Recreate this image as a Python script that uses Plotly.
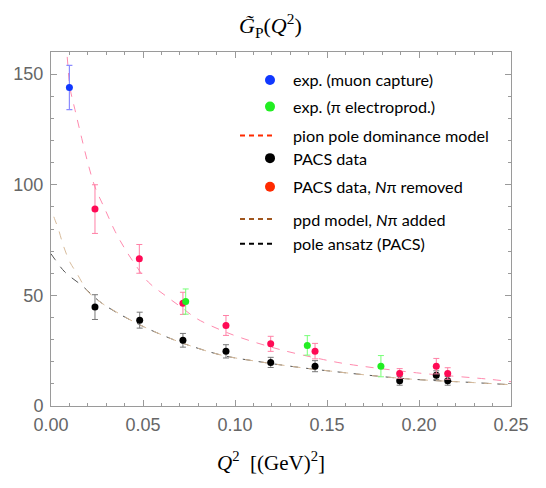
import plotly.graph_objects as go

# ---------------- data ----------------
# experimental: muon capture
mu_x = [0.0100]
mu_y = [144.0]
mu_e = [10.0]

# experimental: pi electroproduction
el_x = [0.0732, 0.1393, 0.1793]
el_y = [47.2, 27.4, 18.0]
el_e = [5.7, 4.4, 4.8]

# PACS data
pacs_x = [0.0239, 0.0482, 0.0717, 0.0951, 0.1194, 0.1435, 0.1895, 0.2094, 0.2156]
pacs_y = [44.7, 38.8, 29.7, 24.7, 19.7, 18.0, 11.4, 13.9, 11.4]
pacs_e = [5.6, 3.6, 3.1, 3.0, 2.3, 2.5, 2.0, 2.0, 2.0]

# PACS data, N-pi removed
rem_x = [0.0239, 0.0480, 0.0717, 0.0951, 0.1194, 0.1435, 0.1895, 0.2094, 0.2156]
rem_y = [89.0, 66.5, 46.4, 36.4, 28.1, 24.8, 14.7, 18.0, 14.7]
rem_e = [11.0, 6.5, 5.0, 4.5, 3.4, 3.5, 2.2, 3.5, 2.6]

# pion pole dominance model
ppd_x = [0.0060, 0.0085, 0.0103, 0.0130, 0.0167, 0.0203, 0.0239, 0.0293, 0.0348,
         0.0402, 0.0457, 0.0529, 0.0620, 0.0710, 0.0792, 0.0918, 0.1027, 0.1245,
         0.1480, 0.1607, 0.1987, 0.2368, 0.2500]
ppd_y = [172, 160, 144, 134, 121, 109, 99, 89, 79,
         71, 64, 56, 50, 44.5, 39.5, 34.5, 31, 25.5,
         21, 19, 15, 12.2, 11]

# ppd model, N-pi added
add_x = [0.0, 0.0022, 0.0040, 0.0067, 0.0103, 0.0140, 0.0203, 0.0276, 0.0330,
         0.0475, 0.0656, 0.0765, 0.0936, 0.1118, 0.1299, 0.1516, 0.1933, 0.2295, 0.2500]
add_y = [89, 84, 80, 72.5, 65, 60, 51.5, 46.5, 43.7,
         37, 30.3, 27, 22.8, 20.2, 18, 15.8, 12.3, 10.6, 9.6]

# pole ansatz (PACS)
pole_x = [0.0, 0.0022, 0.0076, 0.0167, 0.0276, 0.0475, 0.0656, 0.0765, 0.0936,
          0.1118, 0.1299, 0.1516, 0.1933, 0.2295, 0.2500]
pole_y = [68.8, 66.2, 60.5, 54.5, 46.5, 37, 30.3, 27, 22.8,
          20.2, 18, 15.8, 12.3, 10.6, 9.6]

legend_labels = ["exp. (muon capture)", "exp. (π electroprod.)", "pion pole dominance model",
                 "PACS data", "PACS data, <i>N</i>π removed", "ppd model, <i>N</i>π added",
                 "pole ansatz (PACS)"]

# ---------------- figure ----------------
fig = go.Figure()

fig.add_trace(go.Scatter(x=pole_x, y=pole_y, mode="lines", line_shape="spline",
                         line=dict(color="#555555", width=1, dash="8px,8px"), showlegend=False))
fig.add_trace(go.Scatter(x=add_x, y=add_y, mode="lines", line_shape="spline",
                         line=dict(color="#d8bc9c", width=1, dash="0px,8px,8px,0px"), showlegend=False))
fig.add_trace(go.Scatter(x=ppd_x, y=ppd_y, mode="lines", line_shape="spline",
                         line=dict(color="#ff8aae", width=1, dash="8px,8px"), showlegend=False))

fig.add_trace(go.Scatter(x=pacs_x, y=pacs_y, mode="markers",
                         marker=dict(color="black", size=7),
                         error_y=dict(type="data", array=pacs_e, color="#777777", thickness=1, width=3),
                         showlegend=False))
fig.add_trace(go.Scatter(x=rem_x, y=rem_y, mode="markers",
                         marker=dict(color="#ff0a55", size=7),
                         error_y=dict(type="data", array=rem_e, color="#ff80a6", thickness=1, width=3),
                         showlegend=False))
fig.add_trace(go.Scatter(x=el_x, y=el_y, mode="markers",
                         marker=dict(color="#22ee22", size=7),
                         error_y=dict(type="data", array=el_e, color="#77ff77", thickness=1, width=3),
                         showlegend=False))
fig.add_trace(go.Scatter(x=mu_x, y=mu_y, mode="markers",
                         marker=dict(color="#1038ff", size=7),
                         error_y=dict(type="data", array=mu_e, color="#8c8cff", thickness=1.2, width=3),
                         showlegend=False))

# ---------------- manual legend ----------------
L, R, T, B = 51, 511, 52, 406.5
W, H = R - L, B - T
def px(xp):
    return (xp - L) / W
def py(yp):
    return (B - yp) / H

leg_y = [80, 106.7, 135.7, 158.3, 187, 219.3, 244]
leg_kind = ["dot", "dot", "dash", "dot", "dot", "dash", "dash"]
leg_col = ["#1038ff", "#22ee22", "#ff2a00", "#000000", "#ff2a00", "#a0561e", "#000000"]
shapes = []
annotations = []
for yy, kind, col, lab in zip(leg_y, leg_kind, leg_col, legend_labels):
    if kind == "dot":
        shapes.append(dict(type="circle", xref="paper", yref="paper",
                           xsizemode="pixel", ysizemode="pixel",
                           xanchor=px(270), yanchor=py(yy),
                           x0=-5, x1=5, y0=-5, y1=5,
                           fillcolor=col, line=dict(width=0)))
    else:
        shapes.append(dict(type="line", xref="paper", yref="paper",
                           x0=px(240), x1=px(276), y0=py(yy), y1=py(yy),
                           line=dict(color=col, width=2, dash="5px,4px")))
    annotations.append(dict(x=px(291), y=py(yy), xref="paper", yref="paper",
                            text=lab, showarrow=False, xanchor="left", yanchor="middle",
                            font=dict(family="Lato", size=16.2, color="black")))

annotations.append(dict(x=px(270.5), y=py(25), xref="paper", yref="paper",
                        text="<i>G̃</i><sub>P</sub>(<i>Q</i><sup>2</sup>)", showarrow=False,
                        xanchor="center", yanchor="middle",
                        font=dict(family="Liberation Serif", size=22, color="black")))
annotations.append(dict(x=px(270.5), y=py(462), xref="paper", yref="paper",
                        text="<i>Q</i><sup>2</sup>  [(GeV)<sup>2</sup>]", showarrow=False,
                        xanchor="center", yanchor="middle",
                        font=dict(family="Liberation Serif", size=21, color="black")))

axcol = "#9a9a9a"
fig.update_layout(
    width=546, height=488,
    margin=dict(l=51, r=35, t=52, b=81.5, pad=0),
    plot_bgcolor="white", paper_bgcolor="white",
    shapes=shapes, annotations=annotations,
    xaxis=dict(range=[0, 0.25], tickvals=[0, 0.05, 0.10, 0.15, 0.20, 0.25],
               ticktext=["0.00", "0.05", "0.10", "0.15", "0.20", "0.25"],
               ticks="inside", ticklen=6, tickcolor=axcol, tickwidth=1,
               showline=True, linecolor=axcol, linewidth=1, mirror="allticks",
               showgrid=False, zeroline=False, ticklabelstandoff=2,
               minor=dict(dtick=0.01, ticks="inside", ticklen=3, tickcolor=axcol, showgrid=False),
               tickfont=dict(family="Liberation Sans", size=18, color="#666666")),
    yaxis=dict(range=[0, 160], tickvals=[0, 50, 100, 150],
               ticks="inside", ticklen=6, tickcolor=axcol, tickwidth=1,
               showline=True, linecolor=axcol, linewidth=1, mirror="allticks",
               showgrid=False, zeroline=False, ticklabelstandoff=3,
               minor=dict(dtick=10, ticks="inside", ticklen=3, tickcolor=axcol, showgrid=False),
               tickfont=dict(family="Liberation Sans", size=18, color="#666666")),
)

fig.write_html("out.html")
